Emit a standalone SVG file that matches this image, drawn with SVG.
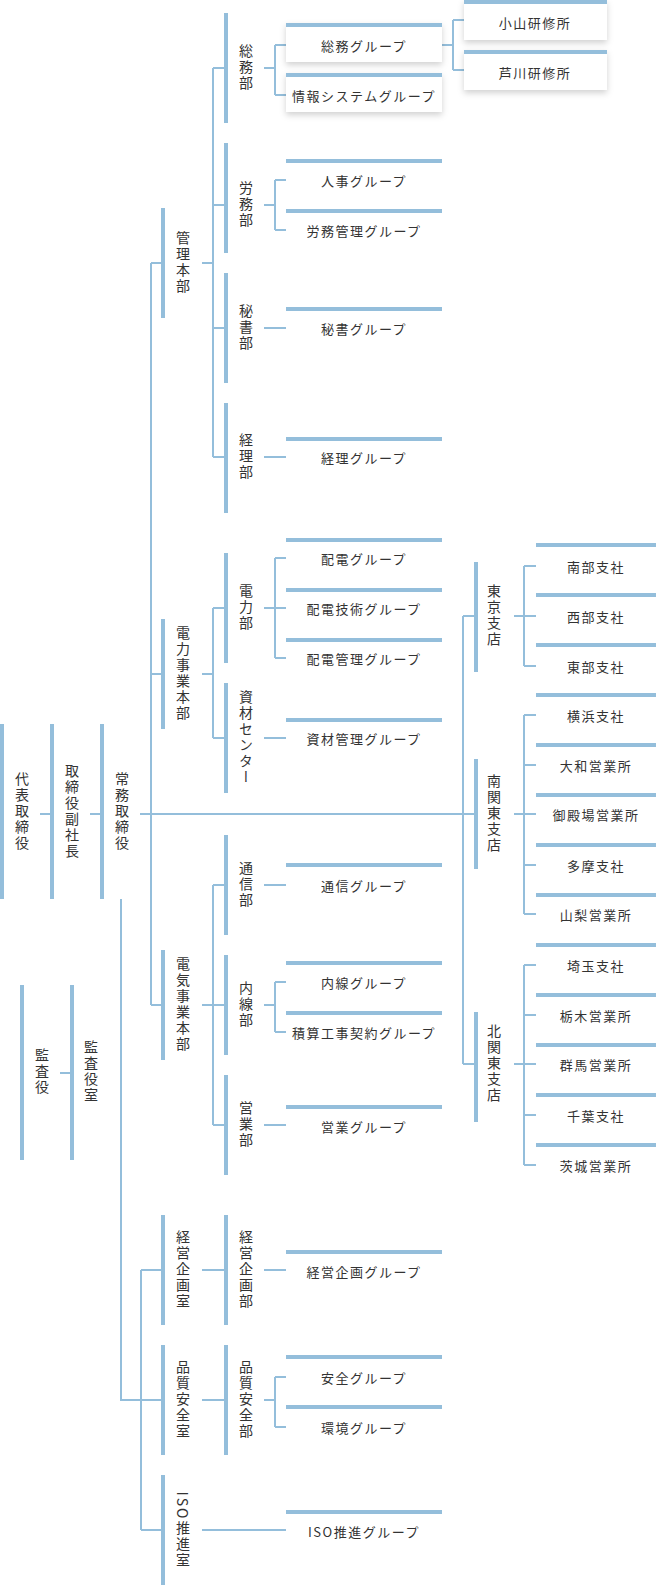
<svg xmlns="http://www.w3.org/2000/svg" width="656" height="1585" viewBox="0 0 656 1585">
<style>
.b{fill:#94bedb}
.l{stroke:#94bedb;stroke-width:2;fill:none}
text{font-family:"Noto Sans CJK JP","Noto Sans CJK SC",sans-serif;font-size:13px;fill:#333;dominant-baseline:central;text-anchor:middle;letter-spacing:1.5px}
.v{writing-mode:vertical-rl;letter-spacing:2px;font-size:14px}
.box{fill:#fff;filter:url(#sh)}
</style>
<defs><filter id="sh" x="-10%" y="-20%" width="120%" height="160%"><feDropShadow dx="0" dy="3" stdDeviation="3" flood-color="#000" flood-opacity="0.18"/></filter></defs>
<g id="connectors" class="l">
<path d="M40 814H50M90 814H100M140 814H476M60 1073H70"/>
<path d="M121 899V1400H162M141 1270V1530M141 1270H162M141 1530H162"/>
<path d="M151 263V1005M151 263H162M151 674H162M151 1005H162"/>
<path d="M202 263H213M213 68V457M213 68H224M213 205H224M213 328H224M213 457H224"/>
<path d="M264 68H275M275 45V95M275 45H286M275 95H286M442 45H453M453 20V70M453 20H464M453 70H464"/>
<path d="M264 205H275M275 180V230M275 180H286M275 230H286M264 328H286M264 457H286"/>
<path d="M202 674H213M213 608V738M213 608H224M213 738H224M264 608H275M275 558V658M275 558H286M275 608H286M275 658H286M264 738H286"/>
<path d="M202 1005H213M213 885V1125M213 885H224M213 1005H224M213 1125H224M264 885H286M264 1005H275M275 982V1032M275 982H286M275 1032H286M264 1125H286"/>
<path d="M202 1270H224M264 1270H286M202 1400H224M264 1400H275M275 1377V1427M275 1377H286M275 1427H286M202 1530H286"/>
<path d="M463 616V1064M463 616H476M463 1064H476"/>
<path d="M514 616H524M524 566V666M524 566H536M524 616H536M524 666H536"/>
<path d="M514 814H524M524 715V914M524 715H536M524 765H536M524 814H536M524 865H536M524 914H536"/>
<path d="M514 1064H524M524 965V1165M524 965H536M524 1015H536M524 1064H536M524 1115H536M524 1165H536"/>
</g>
<g id="n-daihyo"><rect class="b" x="0" y="724" width="4" height="175"/><text class="v" x="22" y="812">代表取締役</text></g>
<g id="n-fuku"><rect class="b" x="50" y="724" width="4" height="175"/><text class="v" x="72" y="812">取締役副社長</text></g>
<g id="n-jomu"><rect class="b" x="100" y="724" width="4" height="175"/><text class="v" x="122" y="812">常務取締役</text></g>
<g id="n-kansa"><rect class="b" x="20" y="985" width="4" height="175"/><text class="v" x="42" y="1072">監査役</text></g>
<g id="n-kansashitsu"><rect class="b" x="70" y="985" width="4" height="175"/><text class="v" x="91" y="1072">監査役室</text></g>

<g id="n-kanri"><rect class="b" x="161" y="208" width="4" height="110"/><text class="v" x="183" y="263">管理本部</text></g>
<g id="n-denryokujigyo"><rect class="b" x="161" y="619" width="4" height="110"/><text class="v" x="183" y="674">電力事業本部</text></g>
<g id="n-denkijigyo"><rect class="b" x="161" y="950" width="4" height="110"/><text class="v" x="183" y="1005">電気事業本部</text></g>
<g id="n-keieikikakushitsu"><rect class="b" x="161" y="1215" width="4" height="110"/><text class="v" x="183" y="1270">経営企画室</text></g>
<g id="n-hinshitsushitsu"><rect class="b" x="161" y="1345" width="4" height="110"/><text class="v" x="183" y="1400">品質安全室</text></g>
<g id="n-iso"><rect class="b" x="161" y="1475" width="4" height="110"/><text class="v" x="183" y="1530">ISO推進室</text></g>

<g id="n-somu"><rect class="b" x="224" y="13" width="4" height="110"/><text class="v" x="246" y="68">総務部</text></g>
<g id="n-romu"><rect class="b" x="224" y="143" width="4" height="110"/><text class="v" x="246" y="205">労務部</text></g>
<g id="n-hisho"><rect class="b" x="224" y="273" width="4" height="110"/><text class="v" x="246" y="328">秘書部</text></g>
<g id="n-keiri"><rect class="b" x="224" y="403" width="4" height="110"/><text class="v" x="246" y="457">経理部</text></g>
<g id="n-denryoku"><rect class="b" x="224" y="553" width="4" height="110"/><text class="v" x="246" y="608">電力部</text></g>
<g id="n-shizai"><rect class="b" x="224" y="683" width="4" height="110"/><text class="v" x="246" y="738">資材センター</text></g>
<g id="n-tsushin"><rect class="b" x="224" y="835" width="4" height="100"/><text class="v" x="246" y="885">通信部</text></g>
<g id="n-naisen"><rect class="b" x="224" y="955" width="4" height="100"/><text class="v" x="246" y="1005">内線部</text></g>
<g id="n-eigyo"><rect class="b" x="224" y="1075" width="4" height="100"/><text class="v" x="246" y="1125">営業部</text></g>
<g id="n-keieikikakubu"><rect class="b" x="224" y="1215" width="4" height="110"/><text class="v" x="246" y="1270">経営企画部</text></g>
<g id="n-hinshitsubu"><rect class="b" x="224" y="1345" width="4" height="110"/><text class="v" x="246" y="1400">品質安全部</text></g>

<g id="n-somug"><rect class="box" x="286" y="23" width="156" height="39"/><rect class="b" x="286" y="23" width="156" height="4"/><text x="364" y="45">総務グループ</text></g>
<g id="n-joho"><rect class="box" x="286" y="73" width="156" height="39"/><rect class="b" x="286" y="73" width="156" height="4"/><text x="364" y="95">情報システムグループ</text></g>
<g id="n-oyama"><rect class="box" x="464" y="0" width="143" height="40"/><rect class="b" x="464" y="0" width="143" height="4"/><text x="535" y="22">小山研修所</text></g>
<g id="n-ashikawa"><rect class="box" x="464" y="50" width="143" height="40"/><rect class="b" x="464" y="50" width="143" height="4"/><text x="535" y="72">芦川研修所</text></g>

<g id="n-jinji"><rect class="b" x="286" y="159" width="156" height="4"/><text x="364" y="180">人事グループ</text></g>
<g id="n-romukanri"><rect class="b" x="286" y="209" width="156" height="4"/><text x="364" y="230">労務管理グループ</text></g>
<g id="n-hishog"><rect class="b" x="286" y="307" width="156" height="4"/><text x="364" y="328">秘書グループ</text></g>
<g id="n-keirig"><rect class="b" x="286" y="437" width="156" height="4"/><text x="364" y="457">経理グループ</text></g>
<g id="n-haiden"><rect class="b" x="286" y="538" width="156" height="4"/><text x="364" y="558">配電グループ</text></g>
<g id="n-haidengijutsu"><rect class="b" x="286" y="588" width="156" height="4"/><text x="364" y="608">配電技術グループ</text></g>
<g id="n-haidenkanri"><rect class="b" x="286" y="638" width="156" height="4"/><text x="364" y="658">配電管理グループ</text></g>
<g id="n-shizaikanri"><rect class="b" x="286" y="718" width="156" height="4"/><text x="364" y="738">資材管理グループ</text></g>
<g id="n-tsushing"><rect class="b" x="286" y="863" width="156" height="4"/><text x="364" y="885">通信グループ</text></g>
<g id="n-naiseng"><rect class="b" x="286" y="961" width="156" height="4"/><text x="364" y="982">内線グループ</text></g>
<g id="n-sekisan"><rect class="b" x="286" y="1011" width="156" height="4"/><text x="364" y="1032">積算工事契約グループ</text></g>
<g id="n-eigyog"><rect class="b" x="286" y="1105" width="156" height="4"/><text x="364" y="1126">営業グループ</text></g>
<g id="n-keieikikakug"><rect class="b" x="286" y="1250" width="156" height="4"/><text x="364" y="1271">経営企画グループ</text></g>
<g id="n-anzen"><rect class="b" x="286" y="1355" width="156" height="4"/><text x="364" y="1377">安全グループ</text></g>
<g id="n-kankyo"><rect class="b" x="286" y="1405" width="156" height="4"/><text x="364" y="1427">環境グループ</text></g>
<g id="n-isog"><rect class="b" x="286" y="1510" width="156" height="4"/><text x="364" y="1531">ISO推進グループ</text></g>

<g id="n-tokyo"><rect class="b" x="474" y="562" width="4" height="110"/><text class="v" x="494" y="616">東京支店</text></g>
<g id="n-minamikanto"><rect class="b" x="474" y="759" width="4" height="110"/><text class="v" x="494" y="814">南関東支店</text></g>
<g id="n-kitakanto"><rect class="b" x="474" y="1012" width="4" height="110"/><text class="v" x="494" y="1064">北関東支店</text></g>

<g id="n-nanbu"><rect class="b" x="536" y="543" width="120" height="4"/><text x="596" y="566">南部支社</text></g>
<g id="n-seibu"><rect class="b" x="536" y="593" width="120" height="4"/><text x="596" y="616">西部支社</text></g>
<g id="n-tobu"><rect class="b" x="536" y="643" width="120" height="4"/><text x="596" y="666">東部支社</text></g>
<g id="n-yokohama"><rect class="b" x="536" y="693" width="120" height="4"/><text x="596" y="715">横浜支社</text></g>
<g id="n-yamato"><rect class="b" x="536" y="743" width="120" height="4"/><text x="596" y="765">大和営業所</text></g>
<g id="n-gotemba"><rect class="b" x="536" y="793" width="120" height="4"/><text x="596" y="814">御殿場営業所</text></g>
<g id="n-tama"><rect class="b" x="536" y="843" width="120" height="4"/><text x="596" y="865">多摩支社</text></g>
<g id="n-yamanashi"><rect class="b" x="536" y="893" width="120" height="4"/><text x="596" y="914">山梨営業所</text></g>
<g id="n-saitama"><rect class="b" x="536" y="943" width="120" height="4"/><text x="596" y="965">埼玉支社</text></g>
<g id="n-tochigi"><rect class="b" x="536" y="993" width="120" height="4"/><text x="596" y="1015">栃木営業所</text></g>
<g id="n-gunma"><rect class="b" x="536" y="1043" width="120" height="4"/><text x="596" y="1064">群馬営業所</text></g>
<g id="n-chiba"><rect class="b" x="536" y="1093" width="120" height="4"/><text x="596" y="1115">千葉支社</text></g>
<g id="n-ibaraki"><rect class="b" x="536" y="1143" width="120" height="4"/><text x="596" y="1165">茨城営業所</text></g>
</svg>
